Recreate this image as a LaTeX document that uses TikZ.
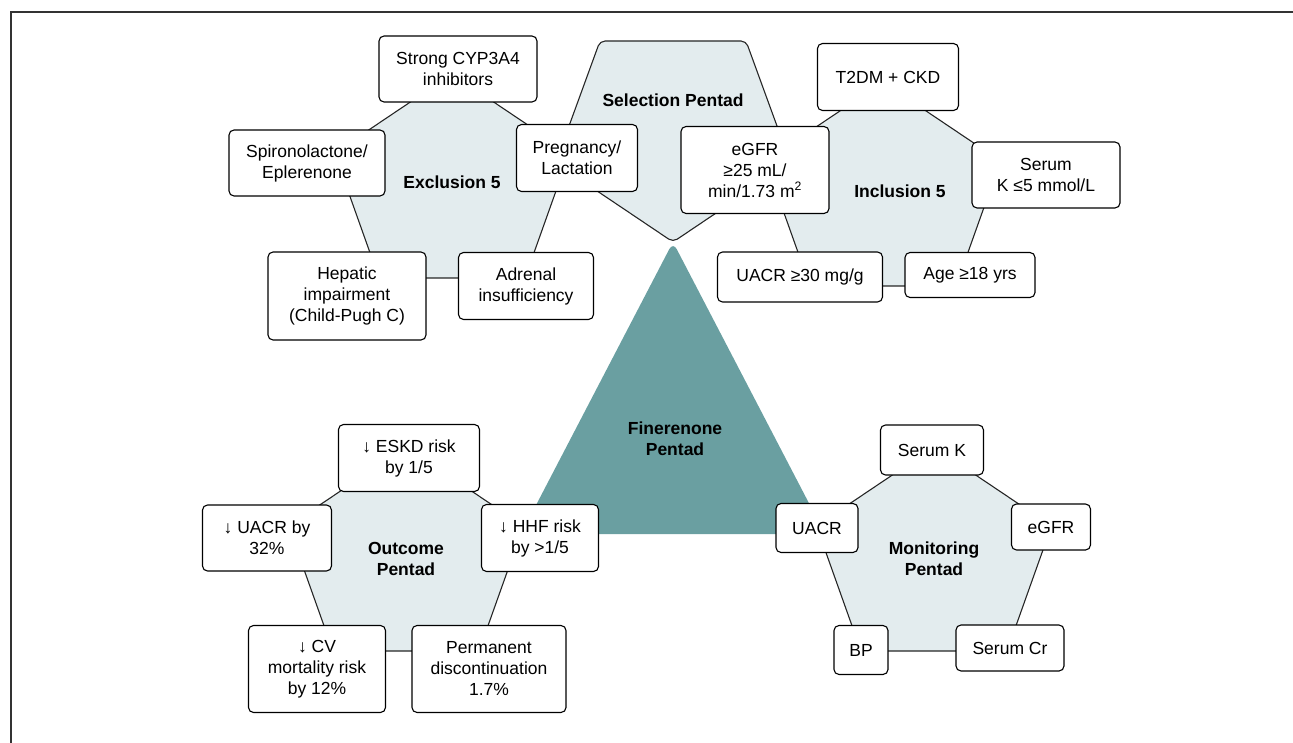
\documentclass[tikz,border=0pt]{standalone}
\usepackage{fontspec}
\setmainfont{Liberation Sans}
\definecolor{pentfill}{RGB}{227,236,238}
\definecolor{finteal}{RGB}{106,159,161}

\begin{document}
\begin{tikzpicture}[x=1pt,y=-1pt,font=\fontsize{17.5}{21}\selectfont,item/.style={draw=black,fill=white,rounded corners=5pt,align=center,line width=1.1pt,inner sep=1pt},pent/.style={draw=black!85,fill=pentfill,line width=1.1pt,rounded corners=5pt},title/.style={font=\fontsize{17.5}{21}\selectfont\bfseries,align=center}]
\def\pw{117.5};
\def\pb{73};
\def\ps{79};
\def\ph{204};

\useasboundingbox (0,0) rectangle (1293,743);
\draw[line width=1.6pt,black!80] (11,743) -- (11,12) -- (1293,12);

% centre
\fill[finteal,rounded corners=8pt] (673,242) -- (825,534) -- (521,534) -- cycle;
\node[title] (fin) at (675,439) {Finerenone\\Pentad};

% pentad shapes
\filldraw[pent] (452,74) -- ++(\pw,\ps) -- ++(\pb-\pw,\ph-\ps) -- ++(-2*\pb,0) -- ++(\pb-\pw,\ps-\ph) -- cycle;
\filldraw[pent] (883,82) -- ++(\pw,\ps) -- ++(\pb-\pw,\ph-\ps) -- ++(-2*\pb,0) -- ++(\pb-\pw,\ps-\ph) -- cycle;
\filldraw[pent] (673,242) -- ++(\pw,-\ps) -- ++(\pb-\pw,\ps-\ph+3) -- ++(-2*\pb,0) -- ++(\pb-\pw,\ph-\ps-3) -- cycle;
\filldraw[pent] (406,447) -- ++(\pw,\ps) -- ++(\pb-\pw,\ph-\ps) -- ++(-2*\pb,0) -- ++(\pb-\pw,\ps-\ph) -- cycle;
\filldraw[pent] (934,447) -- ++(\pw,\ps) -- ++(\pb-\pw,\ph-\ps) -- ++(-2*\pb,0) -- ++(\pb-\pw,\ps-\ph) -- cycle;

% exclusion
\node[title] (exlab) at (452,182) {Exclusion 5};
\node[item,minimum width=158,minimum height=66] (strong) at (458,69) {Strong CYP3A4\\inhibitors};
\node[item,minimum width=156,minimum height=66] (spiro) at (307,163) {Spironolactone/\\Eplerenone};
\node[item,minimum width=121,minimum height=67] (preg) at (577,158) {Pregnancy/\\Lactation};
\node[item,minimum width=158,minimum height=88] (hepat) at (347,296) {Hepatic\\impairment\\(Child-Pugh C)};
\node[item,minimum width=135,minimum height=67] (adren) at (526,286) {Adrenal\\insufficiency};

% selection
\node[title] (sellab) at (673,100) {Selection Pentad};

% inclusion
\node[title] (inlab) at (900,191) {Inclusion 5};
\node[item,minimum width=141,minimum height=67] (t2dm) at (888,77) {T2DM + CKD};
\node[item,minimum width=148,minimum height=87] (egfrin) at (755,170) {eGFR\\≥25 mL/\\min/1.73 m\textsuperscript{2}};
\node[item,minimum width=148,minimum height=66] (kin) at (1046,175) {Serum\\K ≤5 mmol/L};
\node[item,minimum width=165,minimum height=50] (uacrin) at (800,277) {UACR ≥30 mg/g};
\node[item,minimum width=130,minimum height=45] (age) at (970,275) {Age ≥18 yrs};

% outcome
\node[title] (oulab) at (406,559) {Outcome\\Pentad};
\node[item,minimum width=141,minimum height=67] (eskd) at (409,458) {↓ ESKD risk\\by 1/5};
\node[item,minimum width=129,minimum height=66] (uacrou) at (267,538) {↓ UACR by\\32\%};
\node[item,minimum width=117,minimum height=67] (hhf) at (540,538) {↓ HHF risk\\by >1/5};
\node[item,minimum width=137,minimum height=87] (cv) at (317,669) {↓ CV\\mortality risk\\by 12\%};
\node[item,minimum width=154,minimum height=87] (perm) at (489,669) {Permanent\\discontinuation\\1.7\%};

% monitoring
\node[title] (molab) at (934,559) {Monitoring\\Pentad};
\node[item,minimum width=103,minimum height=50] (kmo) at (932,450) {Serum K};
\node[item,minimum width=82,minimum height=49] (uacrmo) at (817,528) {UACR};
\node[item,minimum width=79,minimum height=46] (egfrmo) at (1051,527) {eGFR};
\node[item,minimum width=54,minimum height=49] (bp) at (861,650) {BP};
\node[item,minimum width=108,minimum height=46] (cr) at (1010,648) {Serum Cr};
\end{tikzpicture}
\end{document}
